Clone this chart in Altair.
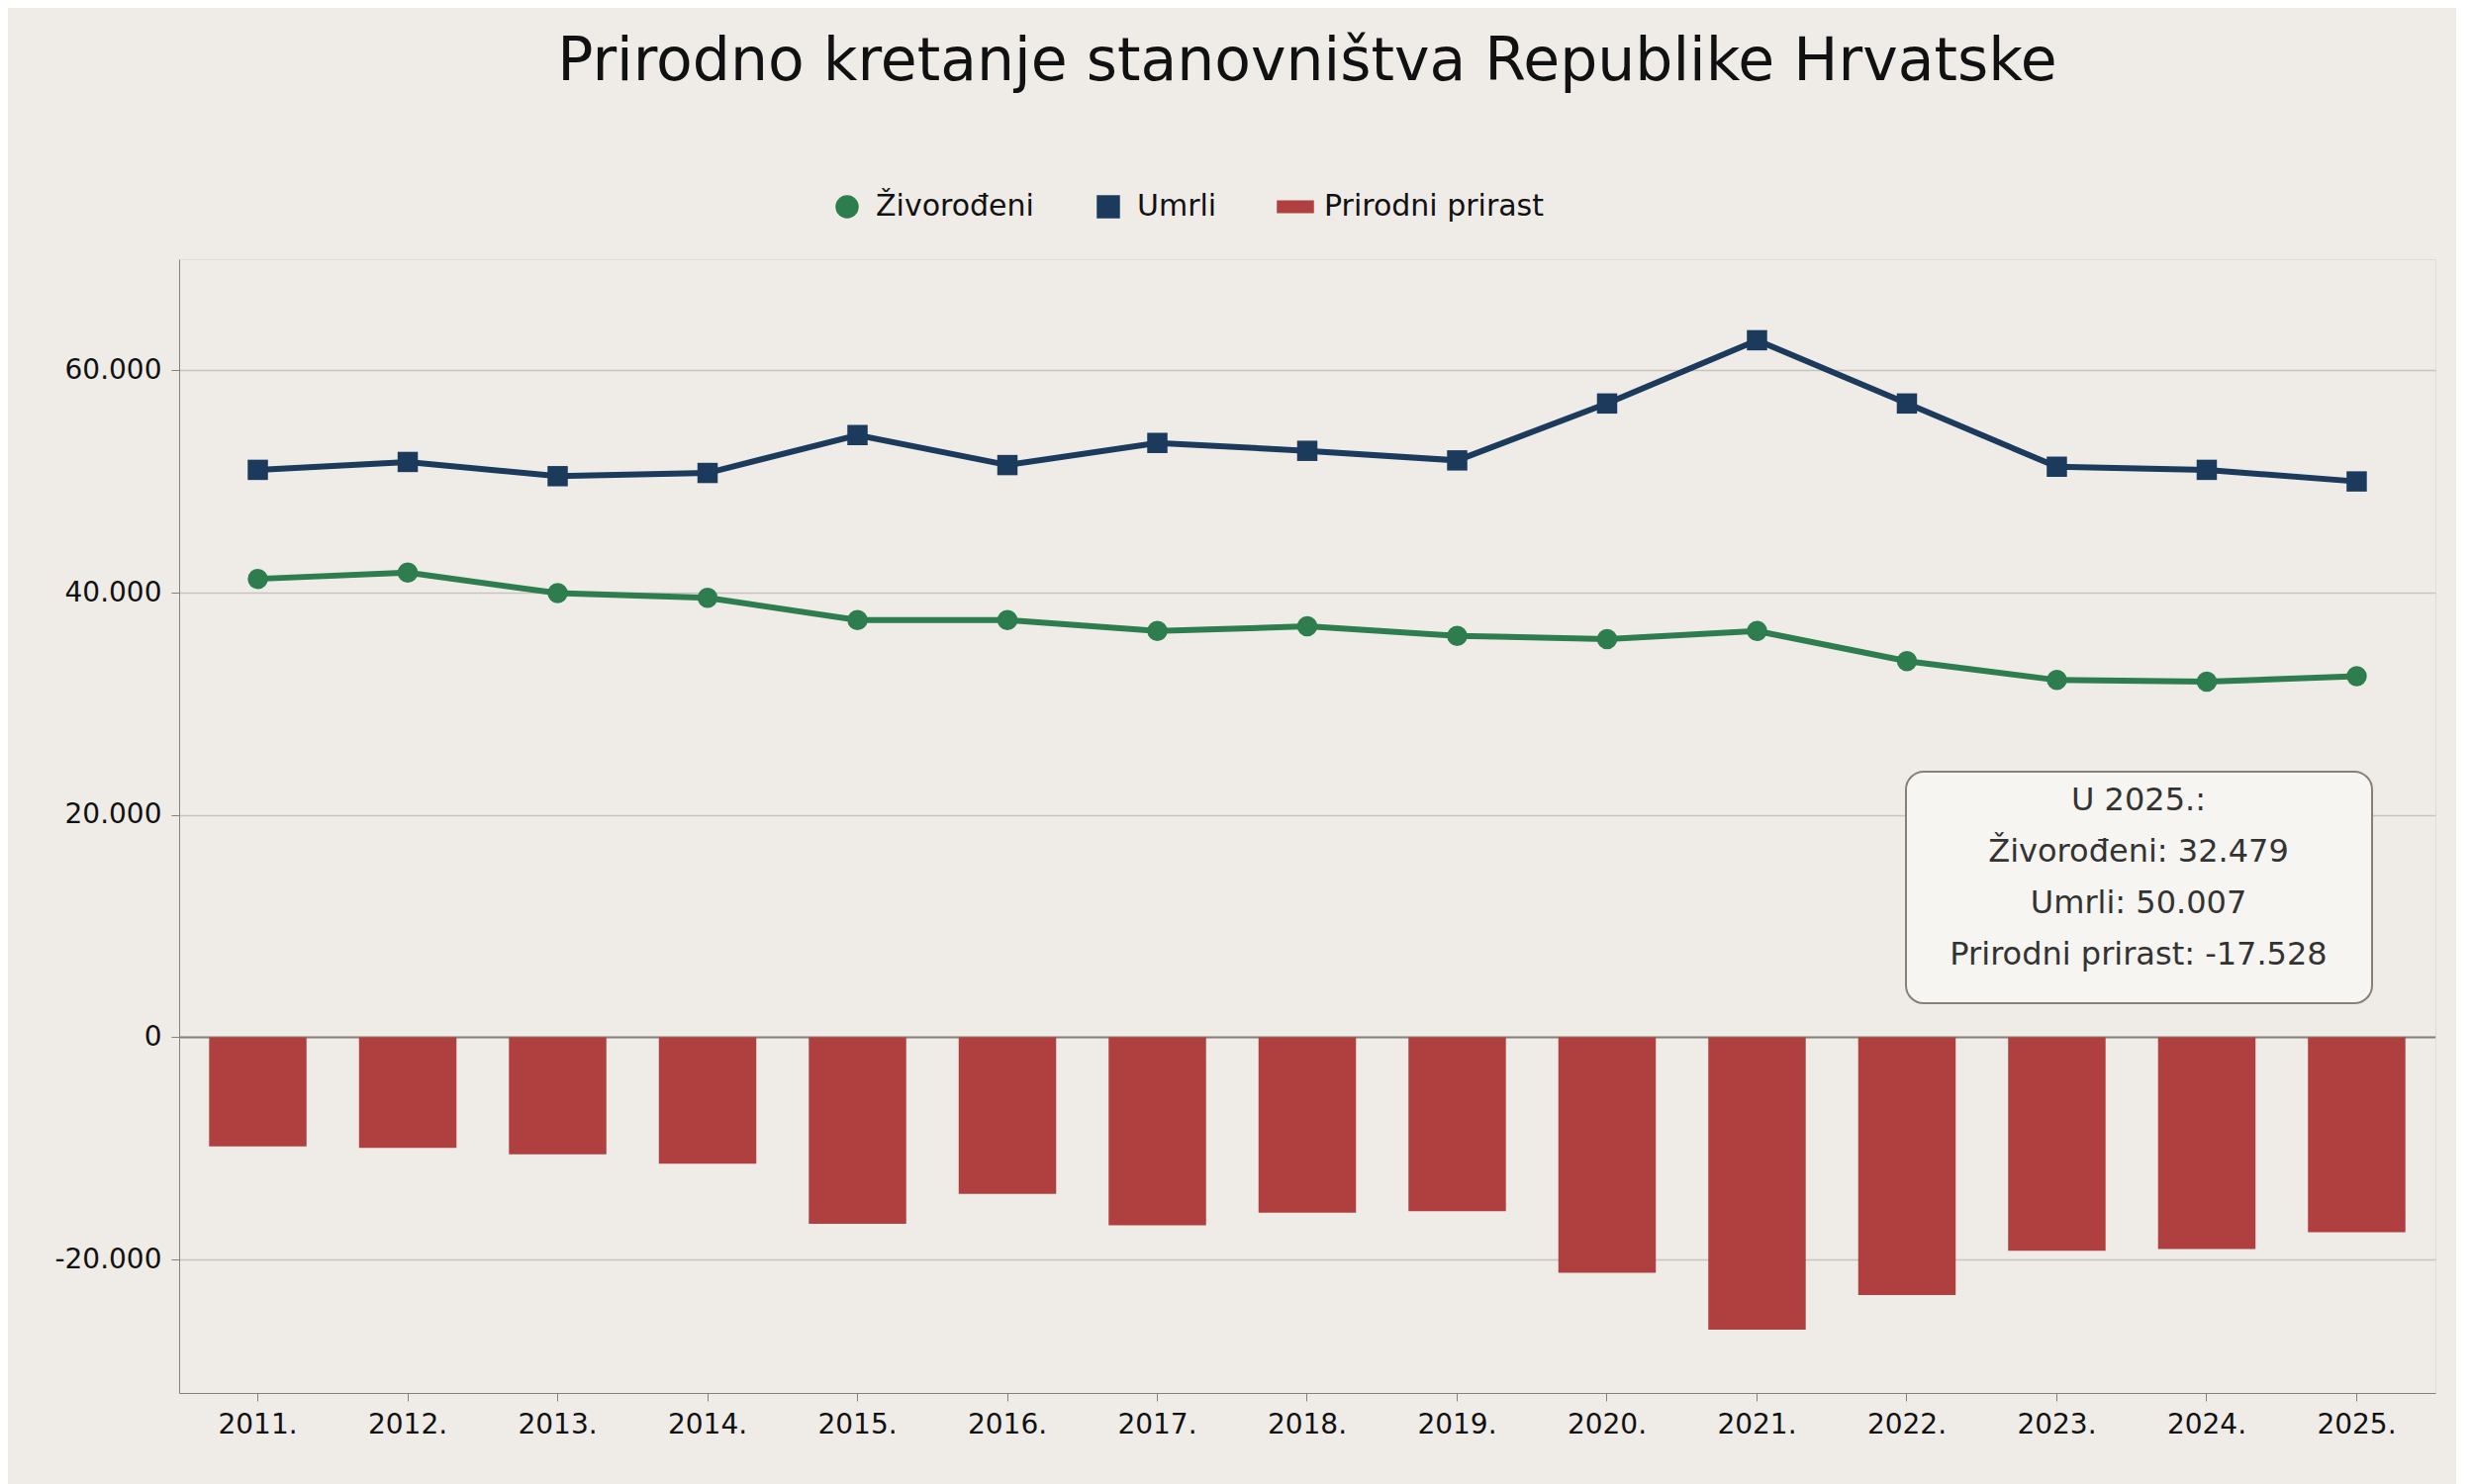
import altair as alt
import pandas as pd

godine = [f"{g}." for g in range(2011, 2026)]
zivorodeni = [41240, 41800, 39960, 39530, 37540, 37540, 36550, 36970, 36120,
              35830, 36550, 33840, 32140, 32000, 32479]
umrli = [51050, 51760, 50480, 50770, 54180, 51480, 53470, 52760, 51900,
         57020, 62710, 57020, 51330, 51050, 50007]
prirast = [-9810, -9950, -10520, -11380, -16780, -14080, -16920, -15780, -15640,
           -21190, -26310, -23180, -19200, -19050, -17528]

serije = ["Živorođeni", "Umrli", "Prirodni prirast"]
boje = ["#2e7d4f", "#1b3a5c", "#b04040"]
oblici = ["circle", "square", "M-1.6,-0.55H1.6V0.55H-1.6Z"]

W, H = 2280, 1146

linije = pd.DataFrame(
    [{"godina": g, "serija": "Živorođeni", "v": v} for g, v in zip(godine, zivorodeni)]
    + [{"godina": g, "serija": "Umrli", "v": v} for g, v in zip(godine, umrli)]
)
stupci = pd.DataFrame({"godina": godine, "serija": "Prirodni prirast", "v": prirast})

fmt = "(datum.value < 0 ? '-' : '') + replace(format(abs(datum.value), ','), ',', '.')"

x = alt.X("godina:N", sort=godine, title=None,
          scale=alt.Scale(paddingInner=0.35, paddingOuter=0.2),
          axis=alt.Axis(labelAngle=0, labelFontSize=28, labelPadding=10, tickSize=8,
                        domainColor="#888078", tickColor="#888078", labelColor="#111"))
y = alt.Y("v:Q", title=None,
          scale=alt.Scale(domain=[-32000, 70000], nice=False, zero=False),
          axis=alt.Axis(values=[-20000, 0, 20000, 40000, 60000], labelExpr=fmt,
                        labelFontSize=28, labelPadding=10, tickSize=8,
                        gridColor="#c8c4bd", gridWidth=1.5,
                        domainColor="#888078", tickColor="#888078", labelColor="#111"))

boja = alt.Color("serija:N", scale=alt.Scale(domain=serije, range=boje),
                 legend=alt.Legend(title=None, orient="none", direction="horizontal",
                                   legendX=660, legendY=-68, labelLimit=400,
                                   labelFontSize=30, symbolSize=550, columnPadding=60,
                                   symbolStrokeWidth=0, labelOffset=14, labelColor="#111"))
oblik = alt.Shape("serija:N", scale=alt.Scale(domain=serije, range=oblici))

bars = alt.Chart(stupci).mark_bar().encode(x=x, y=y, color=boja)
lines = alt.Chart(linije).mark_line(strokeWidth=6).encode(x=x, y=y, color=boja, detail="serija:N")
points = alt.Chart(linije).mark_point(filled=True, size=420, opacity=1).encode(
    x=x, y=y, color=boja, shape=oblik)
nula = alt.Chart(pd.DataFrame({"v": [0]})).mark_rule(color="#888078", strokeWidth=2).encode(y="v:Q")

okvir = alt.Chart(pd.DataFrame({"a": [1]})).mark_rect(
    fill="#f6f5f1", stroke="#888078", strokeWidth=2, cornerRadius=18
).encode(x=alt.value(1745), x2=alt.value(2216), y=alt.value(518), y2=alt.value(752))
tekst = alt.Chart(pd.DataFrame({"t": [["U 2025.:", "Živorođeni: 32.479", "Umrli: 50.007",
                                        "Prirodni prirast: -17.528"]]})).mark_text(
    fontSize=32, color="#333", lineHeight=52, baseline="top", align="center"
).encode(x=alt.value(1980), y=alt.value(532), text="t")
izvor = alt.Chart(pd.DataFrame({"t": ["Izvor: Državni zavod za statistiku | Obrada: I. Brkljača"]})).mark_text(
    fontSize=28, color="#333", align="left", baseline="middle"
).encode(x=alt.value(-163), y=alt.value(1254), text="t")

chart = alt.layer(nula, bars, lines, points, okvir, tekst, izvor).properties(
    width=W, height=H, background="#efece8",
    title=alt.TitleParams("Prirodno kretanje stanovništva Republike Hrvatske",
                          fontSize=60, fontWeight="normal", color="#111", offset=100),
    padding={"left": 10, "top": 25, "right": 20, "bottom": 70},
).configure_view(stroke=None, strokeWidth=0).configure(font="DejaVu Sans")

chart.save("out.html", embed_options={"renderer": "svg", "actions": False})
